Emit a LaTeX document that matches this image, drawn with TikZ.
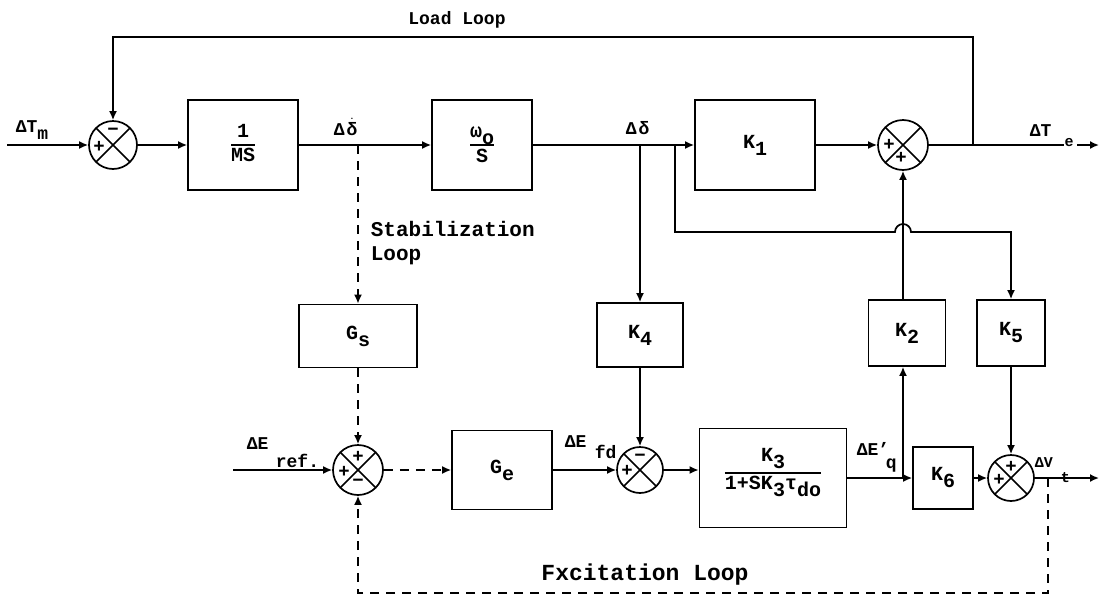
\documentclass[tikz,border=0pt]{standalone}
\usepackage{fontspec}
\setmainfont{Liberation Mono}
\usetikzlibrary{arrows.meta,calc}
\newcommand\lo[1]{\raisebox{-7pt}{#1}}
\newcommand\dotdelta{\(\dot{\hbox{δ}}\)}
\begin{document}
\begin{tikzpicture}[x=1pt,y=-1pt,line width=1.7pt,
  font=\fontsize{18}{21}\selectfont\bfseries,
  arr/.style={-{Latex[length=9pt,width=8pt]}},
  dsh/.style={dash pattern=on 9pt off 7pt},
  blk/.style={draw,rectangle,inner sep=0pt,align=center,font=\fontsize{20}{23}\selectfont\bfseries},
  sumj/.style={draw,circle,inner sep=0pt,minimum size=#1,
    path picture={\draw[line width=1.5pt]
      (path picture bounding box.north west) -- (path picture bounding box.south east)
      (path picture bounding box.north east) -- (path picture bounding box.south west);}},
  sumj/.default=48pt,
  sg/.style={font=\fontsize{19}{19}\selectfont\bfseries,inner sep=0pt},
  lbl/.style={inner sep=0pt,anchor=base west}]
\fill[white] (0,0) rectangle (1101,611);
\useasboundingbox (0,0) rectangle (1101,611);

% ---- blocks and junctions
\node[sumj=48pt] (s1) at (113,145) {};
\node[blk,minimum width=110pt,minimum height=90pt] (b1) at (243,145)
  {\arrayrulewidth=1.5pt\begin{tabular}{@{}c@{}}1\\\hline MS\end{tabular}};
\node[blk,minimum width=100pt,minimum height=90pt] (b2) at (482,145)
  {\arrayrulewidth=1.5pt\begin{tabular}{@{}c@{}}ω\lo{o}\\\hline S\end{tabular}};
\node[blk,minimum width=120pt,minimum height=90pt] (b3) at (755,145) {K\lo{1}};
\node[sumj=50pt] (s2) at (903,145) {};

\node[blk,minimum width=118pt,minimum height=63pt] (gs) at (358,336) {G\lo{s}};
\node[blk,minimum width=86pt,minimum height=64pt] (k4) at (640,335) {K\lo{4}};
\node[blk,minimum width=77pt,minimum height=66pt] (k2) at (907,333) {K\lo{2}};
\node[blk,minimum width=68pt,minimum height=66pt] (k5) at (1011,333) {K\lo{5}};

\node[sumj=50pt] (s3) at (358,470) {};
\node[blk,minimum width=100pt,minimum height=79pt] (ge) at (502,470) {G\lo{e}};
\node[sumj=46pt] (s4) at (640,470) {};
\node[blk,minimum width=147pt,minimum height=99pt] (k3) at (773,478)
  {\arrayrulewidth=1.5pt\begin{tabular}{@{}c@{}}K\lo{3}\\[4pt]\hline 1+SK\lo{3}τ\lo{do}\\[14pt]\end{tabular}};
\node[blk,minimum width=60pt,minimum height=62pt] (k6) at (943,478) {K\lo{6}};
\node[sumj=46pt] (s5) at (1011,478) {};

% ---- signs
\node[sg] at ($(s1.center)+(-14,2)$) {+};
\node[sg] at ($(s1.center)+(0,-13)$) {−};
\node[sg] at ($(s2.center)+(-14,0)$) {+};
\node[sg] at ($(s2.center)+(-2,13)$) {+};
\node[sg] at ($(s3.center)+(0,-13)$) {+};
\node[sg] at ($(s3.center)+(-14,2)$) {+};
\node[sg] at ($(s3.center)+(0,13)$) {−};
\node[sg] at ($(s4.center)+(0,-12)$) {−};
\node[sg] at ($(s4.center)+(-13,1)$) {+};
\node[sg] at ($(s5.center)+(0,-11)$) {+};
\node[sg] at ($(s5.center)+(-12,2)$) {+};

% ---- helper coordinates
\coordinate (in1) at (7,145);
\coordinate (dd1) at (358,145);
\coordinate (dA) at (640,145);
\coordinate (dB) at (675,145);
\coordinate (h1) at (675,232);
\coordinate (LL) at (973,145);
\coordinate (ltop) at (973,37);
\coordinate (te) at (1064,145);
\coordinate (teA) at (1077,145);
\coordinate (teB) at (1099,145);
\coordinate (ein) at (233,470);
\coordinate (kq) at (903,478);
\coordinate (vt) at (1048,478);
\coordinate (vtend) at (1099,478);
\coordinate (fb) at (1048,593);

% ---- top forward path
\draw[arr] (in1) -- (s1.west);
\draw[arr] (s1.east) -- (b1.west);
\draw[arr] (b1.east) -- (b2.west);
\draw[arr] (b2.east) -- (b3.west);
\draw[arr] (b3.east) -- (s2.west);
\draw (s2.east) -- (te);
\draw[arr] (teA) -- (teB);
% load loop
\draw[arr] (LL) -- (ltop) -| (s1.north);
% stabilization loop
\draw[arr,dsh] (dd1) -- (gs.north);
\draw[arr,dsh] (gs.south) -- (s3.north);
\draw[arr,dsh] (s3.east) -- (ge.west);
% delta branches
\draw[arr] (dA) -- (k4.north);
\draw[arr] (dB) -- (h1) -- ++(220,0) arc[start angle=180,end angle=0,radius=8pt] -| (k5.north);
% bottom path
\draw[arr] (ein) -- (s3.west);
\draw[arr] (ge.east) -- (s4.west);
\draw[arr] (k4.south) -- (s4.north);
\draw[arr] (s4.east) -- (s4.east -| k3.west);
\draw[arr] (k3.east |- k6.west) -- (k6.west);
\draw[arr] (kq) -- (kq |- k2.south);
\draw[arr] (k2.north -| s2.south) -- (s2.south);
\draw[arr] (k6.east) -- (s5.west);
\draw[arr] (k5.south) -- (s5.north);
\draw[arr] (s5.east) -- (vtend);
% excitation loop
\draw[arr,dsh] (vt) -- (fb) -| (s3.south);

% ---- labels
\node[lbl] at (15,132) {ΔT\lo{m}};
\node[lbl] at (333,135) {Δ\hspace{2pt}\dotdelta};
\node[lbl] at (625,134) {Δ\hspace{2pt}δ};
\node[lbl] at (1029,136) {ΔT};
\node[inner sep=0pt,font=\fontsize{15}{15}\selectfont\bfseries] at (1069,143) {e};
\node[lbl] at (246,449) {ΔE};
\node[lbl] at (275,467) {ref.};
\node[lbl] at (564,447) {ΔE};
\node[lbl] at (594,458) {fd};
\node[lbl] at (856,455) {ΔE'};
\node[lbl] at (885,468) {q};
\node[lbl,font=\fontsize{15}{15}\selectfont\bfseries] at (1034,467) {ΔV};
\node[lbl,font=\fontsize{15}{15}\selectfont\bfseries] at (1060,482) {t};
\node at (457,20) {Load Loop};
\node[align=left,anchor=north west,inner sep=0pt,font=\fontsize{21}{24}\selectfont\bfseries] at (370,220) {Stabilization\\Loop};
\node[font=\fontsize{23}{26}\selectfont\bfseries] at (645,575) {Fxcitation Loop};
\end{tikzpicture}
\end{document}
